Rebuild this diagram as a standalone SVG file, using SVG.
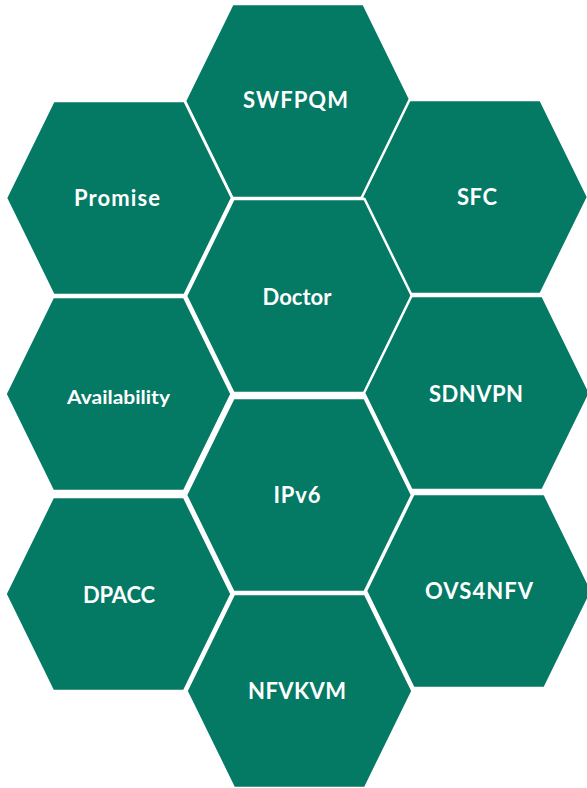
<svg xmlns="http://www.w3.org/2000/svg" xmlns:xlink="http://www.w3.org/1999/xlink" width="587" height="788" viewBox="0 0 587 788">
  <defs>
    <style>
      .hex { fill: #047964; stroke: #ffffff; stroke-width: 2.5; stroke-linejoin: miter; }
      .lbl { fill: #ffffff; font-family: Lato, "Open Sans", "Liberation Sans", sans-serif; font-weight: bold; font-size: 22px; text-anchor: middle; }
      .sm { font-size: 19px; }
    </style>
    <polygon id="hex" class="hex" points="-113,0 -65.5,-97 65.5,-97 113,0 65.5,97 -65.5,97"/>
  </defs>
  <rect width="587" height="788" fill="#ffffff"/>
  <g id="connectors"></g>
  <g id="swfpqm" transform="translate(298,101)">
    <use xlink:href="#hex"/>
    <text class="lbl" x="-2.5" y="7" textLength="105" lengthAdjust="spacing">SWFPQM</text>
  </g>
  <g id="promise" transform="translate(119,198)">
    <use xlink:href="#hex"/>
    <text class="lbl" x="-2" y="8" textLength="86" lengthAdjust="spacing">Promise</text>
  </g>
  <g id="sfc" transform="translate(475,197)">
    <use xlink:href="#hex"/>
    <text class="lbl" x="2" y="8" textLength="40" lengthAdjust="spacing">SFC</text>
  </g>
  <g id="doctor" transform="translate(299,296)">
    <use xlink:href="#hex"/>
    <text class="lbl" x="-2" y="9" textLength="69" lengthAdjust="spacing">Doctor</text>
  </g>
  <g id="availability" transform="translate(118.5,394)">
    <use xlink:href="#hex"/>
    <text class="lbl sm" x="0" y="10" textLength="103" lengthAdjust="spacingAndGlyphs">Availability</text>
  </g>
  <g id="sdnvpn" transform="translate(477,393)">
    <use xlink:href="#hex"/>
    <text class="lbl" x="-1" y="9" textLength="94" lengthAdjust="spacing">SDNVPN</text>
  </g>
  <g id="ipv6" transform="translate(299,495)">
    <use xlink:href="#hex"/>
    <text class="lbl" x="-2" y="8" textLength="47" lengthAdjust="spacing">IPv6</text>
  </g>
  <g id="dpacc" transform="translate(118.5,594)">
    <use xlink:href="#hex"/>
    <text class="lbl" x="0.5" y="9" textLength="72" lengthAdjust="spacing">DPACC</text>
  </g>
  <g id="ovs4nfv" transform="translate(479,591)">
    <use xlink:href="#hex"/>
    <text class="lbl" x="0" y="8" textLength="108" lengthAdjust="spacing">OVS4NFV</text>
  </g>
  <g id="nfvkvm" transform="translate(299.5,691)">
    <use xlink:href="#hex"/>
    <text class="lbl" x="-2.5" y="8" textLength="98" lengthAdjust="spacing">NFVKVM</text>
  </g>
</svg>
